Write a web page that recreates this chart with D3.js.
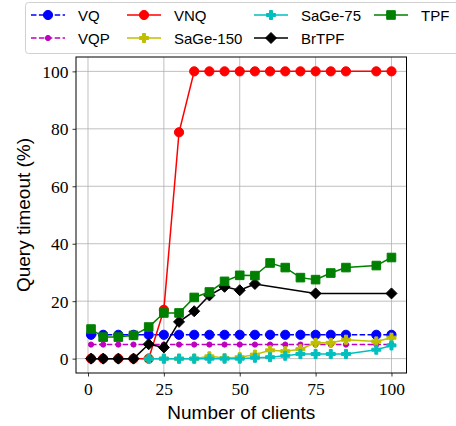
<!DOCTYPE html>
<html>
<head>
<meta charset="utf-8">
<script src="https://cdn.jsdelivr.net/npm/d3@7"></script>
<style>
  body { margin: 0; background: #fff; }
  .tick text { font-family: "Liberation Serif", serif; font-size: 17.5px; }
  .lbl { font-family: "Liberation Sans", sans-serif; font-size: 19px; }
  .leg { font-family: "Liberation Sans", sans-serif; font-size: 15px; }
</style>
</head>
<body>
<div id="chart"></div>
<script>
// clients on the x axis
var clients = [1, 5, 10, 15, 20, 25, 30, 35, 40, 45, 50, 55, 60, 65, 70, 75, 80, 85, 95, 100];
var sageClients = [20, 25, 30, 35, 40, 45, 50, 55, 60, 65, 70, 75, 80, 85, 95, 100];
var brtpfClients = [1, 5, 10, 15, 20, 25, 30, 35, 40, 45, 50, 55, 75, 100];

// query timeout (%)
var vq = [8.3, 8.3, 8.3, 8.3, 8.3, 8.3, 8.3, 8.3, 8.3, 8.3, 8.3, 8.3, 8.3, 8.3, 8.3, 8.3, 8.3, 8.3, 8.3, 8.3];
var vqp = [4.9, 4.9, 4.9, 4.9, 4.9, 4.9, 4.9, 4.9, 4.9, 4.9, 4.9, 4.9, 4.9, 4.9, 4.9, 4.9, 4.9, 4.9, 4.9, 4.9];
var vnq = [0, 0, 0, 0, 0, 17, 78.8, 100, 100, 100, 100, 100, 100, 100, 100, 100, 100, 100, 100, 100];
var sage150 = [0, 0, 0, 0, 0.8, 0.2, 0.5, 1.4, 2.9, 2.6, 3.3, 5.5, 5.5, 6.6, 6.0, 7.3];
var sage75 = [0, 0, 0, 0, 0, 0, 0, 0.3, 0.5, 1.0, 1.6, 1.6, 1.6, 1.6, 3.1, 4.6];
var brtpf = [0, 0, 0, 0, 5.0, 3.9, 12.8, 16.5, 22.0, 25.0, 23.8, 26.0, 22.7, 22.7];
var tpf = [10.3, 7.5, 7.5, 8.1, 11.0, 15.9, 15.9, 21.3, 23.2, 26.9, 29.0, 28.9, 33.3, 31.7, 28.2, 27.5, 29.8, 31.7, 32.4, 35.2];

var xTicks = [0, 25, 50, 75, 100];
var yTicks = [0, 20, 40, 60, 80, 100];

// plot order = draw order
var series = [
  {name: "VQ", xs: clients, ys: vq, color: "#0000ff", dash: "5.5,2.4", marker: "circle", size: 4.6},
  {name: "VQP", xs: clients, ys: vqp, color: "#bf00bf", dash: "5.5,2.4", marker: "circle", size: 2.6},
  {name: "VNQ", xs: clients, ys: vnq, color: "#ff0000", dash: null, marker: "circle", size: 4.6},
  {name: "SaGe-150", xs: sageClients, ys: sage150, color: "#bfbf00", dash: null, marker: "plus", size: 9},
  {name: "SaGe-75", xs: sageClients, ys: sage75, color: "#00bfbf", dash: null, marker: "plus", size: 9},
  {name: "BrTPF", xs: brtpfClients, ys: brtpf, color: "#000000", dash: null, marker: "diamond", size: 5.5},
  {name: "TPF", xs: clients, ys: tpf, color: "#008000", dash: null, marker: "square", size: 4.3}
];

var W = 456, H = 426;
var mLeft = 76, mRight = 406.5, mTop = 57, mBottom = 373;

var svg = d3.select("#chart").append("svg")
    .attr("width", W)
    .attr("height", H);

var x = d3.scaleLinear().domain([-3.95, 104.95]).range([mLeft, mRight]);
var y = d3.scaleLinear().domain([-5, 105]).range([mBottom, mTop]);

// grid
svg.append("g").selectAll("line").data(xTicks).enter().append("line")
    .attr("x1", function(d) { return x(d); }).attr("x2", function(d) { return x(d); })
    .attr("y1", mTop).attr("y2", mBottom)
    .attr("stroke", "#b0b0b0").attr("stroke-width", 0.8);
svg.append("g").selectAll("line").data(yTicks).enter().append("line")
    .attr("y1", function(d) { return y(d); }).attr("y2", function(d) { return y(d); })
    .attr("x1", mLeft).attr("x2", mRight)
    .attr("stroke", "#b0b0b0").attr("stroke-width", 0.8);

// axes
var xAxis = svg.append("g")
    .attr("transform", "translate(0," + mBottom + ")")
    .call(d3.axisBottom(x).tickValues(xTicks).tickSize(3.5).tickPadding(4).tickSizeOuter(0));
var yAxis = svg.append("g")
    .attr("transform", "translate(" + mLeft + ",0)")
    .call(d3.axisLeft(y).tickValues(yTicks).tickSize(3.5).tickPadding(4).tickSizeOuter(0));
xAxis.select(".domain").remove();
yAxis.select(".domain").remove();
svg.selectAll(".tick line").attr("stroke", "#000").attr("stroke-width", 0.8);
svg.selectAll(".tick text").attr("fill", "#000");
xAxis.selectAll(".tick text").attr("dy", "0.85em");
yAxis.selectAll(".tick text").attr("dy", "0.34em");

function markerPath(type, s) {
  if (type === "circle") return d3.symbol().type(d3.symbolCircle).size(Math.PI * s * s)();
  if (type === "square") return "M" + -s + "," + -s + "H" + s + "V" + s + "H" + -s + "Z";
  if (type === "diamond") return "M0," + -s + "L" + s + ",0L0," + s + "L" + -s + ",0Z";
  // filled plus
  var a = s / 2, b = s / 6;
  return "M" + -b + "," + -a + "H" + b + "V" + -b + "H" + a + "V" + b + "H" + b + "V" + a +
         "H" + -b + "V" + b + "H" + -a + "V" + -b + "H" + -b + "Z";
}

var plot = svg.append("g");
var line = d3.line().x(function(d) { return x(d[0]); }).y(function(d) { return y(d[1]); });

series.forEach(function(s) {
  var pts = d3.zip(s.xs, s.ys);
  var g = plot.append("g");
  g.append("path")
      .datum(pts)
      .attr("d", line)
      .attr("fill", "none")
      .attr("stroke", s.color)
      .attr("stroke-width", 1.5)
      .attr("stroke-dasharray", s.dash);
  g.selectAll(".m").data(pts).enter().append("path")
      .attr("class", "m")
      .attr("transform", function(d) { return "translate(" + x(d[0]) + "," + y(d[1]) + ")"; })
      .attr("d", markerPath(s.marker, s.size))
      .attr("fill", s.color)
      .attr("stroke", s.color)
      .attr("stroke-width", 1);
});

// frame
svg.append("rect")
    .attr("x", mLeft).attr("y", mTop)
    .attr("width", mRight - mLeft).attr("height", mBottom - mTop)
    .attr("fill", "none").attr("stroke", "#000").attr("stroke-width", 1);

// axis titles
svg.append("text").attr("class", "lbl")
    .attr("x", (mLeft + mRight) / 2).attr("y", 419)
    .attr("text-anchor", "middle")
    .text("Number of clients");
svg.append("text").attr("class", "lbl")
    .attr("transform", "translate(30," + ((mTop + mBottom) / 2) + ") rotate(-90)")
    .attr("text-anchor", "middle")
    .text("Query timeout (%)");

// legend, 4 columns filled column by column
var legend = svg.append("g");
legend.append("rect")
    .attr("x", 25.5).attr("y", 2.5)
    .attr("width", 445).attr("height", 51)
    .attr("rx", 3)
    .attr("fill", "#fff").attr("fill-opacity", 0.8)
    .attr("stroke", "#d0d0d0").attr("stroke-width", 1);

var colX = [31, 127, 254, 374];
var rowY = [15, 38];
series.forEach(function(s, i) {
  var cx = colX[Math.floor(i / 2)], cy = rowY[i % 2];
  var g = legend.append("g").attr("transform", "translate(" + cx + "," + cy + ")");
  g.append("line")
      .attr("x1", 0).attr("x2", 34).attr("y1", 0).attr("y2", 0)
      .attr("stroke", s.color).attr("stroke-width", 1.5)
      .attr("stroke-dasharray", s.dash);
  g.append("path")
      .attr("transform", "translate(17,0)")
      .attr("d", markerPath(s.marker, s.size))
      .attr("fill", s.color).attr("stroke", s.color).attr("stroke-width", 1);
  g.append("text").attr("class", "leg")
      .attr("x", 47).attr("y", 5.5)
      .text(s.name);
});
</script>
</body>
</html>
